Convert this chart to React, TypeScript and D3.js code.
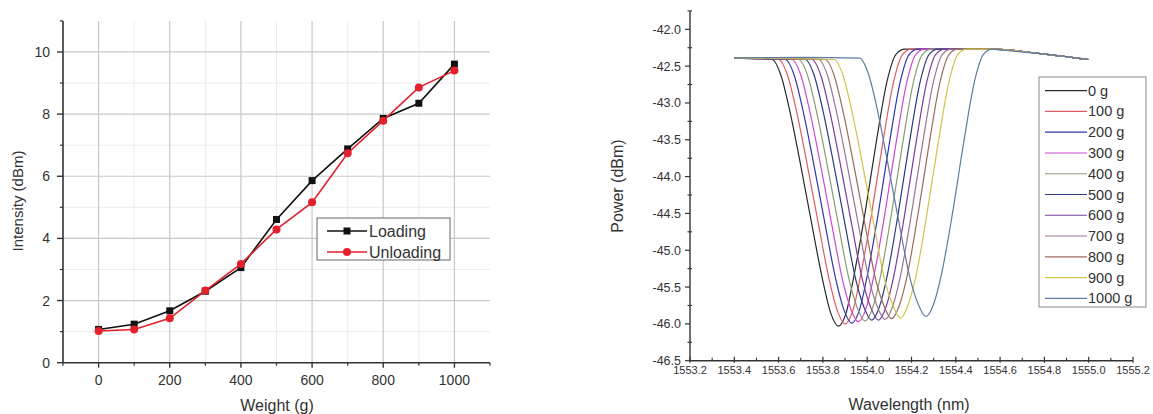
import React from 'react';
import * as d3 from 'd3';

// ---- left chart data ----
const weights = [0, 100, 200, 300, 400, 500, 600, 700, 800, 900, 1000];
const loading = [1.07, 1.24, 1.67, 2.3, 3.06, 4.61, 5.86, 6.88, 7.86, 8.35, 9.61];
const unloading = [1.02, 1.07, 1.43, 2.32, 3.18, 4.29, 5.16, 6.74, 7.79, 8.86, 9.4];
const leftXTicks = [0, 200, 400, 600, 800, 1000];
const leftXMinor = [-100, 100, 300, 500, 700, 900, 1100];
const leftYTicks = [0, 2, 4, 6, 8, 10];
const leftYMinor = [1, 3, 5, 7, 9, 11];

// ---- right chart data ----
const tail = [[1554.57, -42.27], [1554.78, -42.33], [1555.0, -42.41]];
const c0 = [[1553.4, -42.39], [1553.57, -42.41], [1553.61, -42.62], [1553.65, -43.1], [1553.7, -43.85], [1553.75, -44.65], [1553.8, -45.42], [1553.835, -45.85], [1553.87, -46.03], [1553.905, -45.85], [1553.94, -45.35], [1553.99, -44.5], [1554.04, -43.55], [1554.09, -42.7], [1554.13, -42.34], [1554.17, -42.27]];
const c100 = [[1553.4, -42.39], [1553.6, -42.41], [1553.64, -42.62], [1553.68, -43.1], [1553.73, -43.85], [1553.78, -44.65], [1553.83, -45.42], [1553.865, -45.82], [1553.9, -46.0], [1553.935, -45.82], [1553.97, -45.35], [1554.02, -44.5], [1554.07, -43.55], [1554.12, -42.7], [1554.16, -42.34], [1554.2, -42.27]];
const c200 = [[1553.4, -42.39], [1553.63, -42.41], [1553.67, -42.62], [1553.71, -43.1], [1553.76, -43.85], [1553.81, -44.65], [1553.86, -45.42], [1553.895, -45.81], [1553.93, -45.99], [1553.965, -45.81], [1554.0, -45.35], [1554.05, -44.5], [1554.1, -43.55], [1554.15, -42.7], [1554.19, -42.34], [1554.23, -42.27]];
const c300 = [[1553.4, -42.39], [1553.66, -42.41], [1553.7, -42.62], [1553.74, -43.1], [1553.79, -43.85], [1553.84, -44.65], [1553.89, -45.42], [1553.925, -45.79], [1553.96, -45.97], [1553.995, -45.79], [1554.03, -45.35], [1554.08, -44.5], [1554.13, -43.55], [1554.18, -42.7], [1554.22, -42.34], [1554.26, -42.27]];
const c400 = [[1553.4, -42.39], [1553.69, -42.41], [1553.73, -42.62], [1553.77, -43.1], [1553.82, -43.85], [1553.87, -44.65], [1553.92, -45.42], [1553.955, -45.78], [1553.99, -45.96], [1554.025, -45.78], [1554.06, -45.35], [1554.11, -44.5], [1554.16, -43.55], [1554.21, -42.7], [1554.25, -42.34], [1554.29, -42.27]];
const c500 = [[1553.4, -42.39], [1553.72, -42.41], [1553.76, -42.62], [1553.8, -43.1], [1553.85, -43.85], [1553.9, -44.65], [1553.95, -45.42], [1553.985, -45.77], [1554.02, -45.95], [1554.055, -45.77], [1554.09, -45.35], [1554.14, -44.5], [1554.19, -43.55], [1554.24, -42.7], [1554.28, -42.34], [1554.32, -42.27]];
const c600 = [[1553.4, -42.39], [1553.75, -42.41], [1553.79, -42.62], [1553.83, -43.1], [1553.88, -43.85], [1553.93, -44.65], [1553.98, -45.42], [1554.015, -45.77], [1554.05, -45.95], [1554.085, -45.77], [1554.12, -45.35], [1554.17, -44.5], [1554.22, -43.55], [1554.27, -42.7], [1554.31, -42.34], [1554.35, -42.27]];
const c700 = [[1553.4, -42.39], [1553.78, -42.41], [1553.82, -42.62], [1553.86, -43.1], [1553.91, -43.85], [1553.96, -44.65], [1554.01, -45.42], [1554.045, -45.76], [1554.08, -45.94], [1554.115, -45.76], [1554.15, -45.35], [1554.2, -44.5], [1554.25, -43.55], [1554.3, -42.7], [1554.34, -42.34], [1554.38, -42.27]];
const c800 = [[1553.4, -42.39], [1553.81, -42.41], [1553.85, -42.62], [1553.89, -43.1], [1553.94, -43.85], [1553.99, -44.65], [1554.04, -45.42], [1554.075, -45.75], [1554.11, -45.93], [1554.145, -45.75], [1554.18, -45.35], [1554.23, -44.5], [1554.28, -43.55], [1554.33, -42.7], [1554.37, -42.34], [1554.41, -42.27]];
const c900 = [[1553.4, -42.39], [1553.85, -42.41], [1553.89, -42.62], [1553.93, -43.1], [1553.98, -43.85], [1554.03, -44.65], [1554.08, -45.42], [1554.115, -45.74], [1554.15, -45.92], [1554.185, -45.74], [1554.22, -45.35], [1554.27, -44.5], [1554.32, -43.55], [1554.37, -42.7], [1554.41, -42.34], [1554.45, -42.27]];
const c1000 = [[1553.4, -42.39], [1553.7, -42.38], [1553.965, -42.39], [1554.005, -42.6], [1554.045, -43.08], [1554.095, -43.85], [1554.145, -44.65], [1554.195, -45.4], [1554.23, -45.73], [1554.265, -45.9], [1554.3, -45.73], [1554.335, -45.33], [1554.385, -44.5], [1554.435, -43.55], [1554.485, -42.7], [1554.525, -42.34], [1554.565, -42.27], [1554.6, -42.28], [1554.78, -42.33], [1555.0, -42.41]];

const spectra = [c0, c100, c200, c300, c400, c500, c600, c700, c800, c900].map((c) => c.concat(tail)).concat([c1000]);
const spectraNames = ['0 g', '100 g', '200 g', '300 g', '400 g', '500 g', '600 g', '700 g', '800 g', '900 g', '1000 g'];
const spectraColors = ['#2a2a2a', '#e05a62', '#3434b0', '#d048d0', '#8c9a72', '#2c3a7e', '#7a3c9e', '#9c7494', '#9c6c5c', '#cfc54a', '#5c7ca2'];
const rightXTicks = [1553.2, 1553.4, 1553.6, 1553.8, 1554.0, 1554.2, 1554.4, 1554.6, 1554.8, 1555.0, 1555.2];
const rightXMinor = [1553.3, 1553.5, 1553.7, 1553.9, 1554.1, 1554.3, 1554.5, 1554.7, 1554.9, 1555.1];
const rightYTicks = [-46.5, -46.0, -45.5, -45.0, -44.5, -44.0, -43.5, -43.0, -42.5, -42.0];
const rightYMinor = [-46.25, -45.75, -45.25, -44.75, -44.25, -43.75, -43.25, -42.75, -42.25, -41.75];

const FONT = '"Liberation Sans", Arial, sans-serif';
const TXT = '#333';

const xL = d3.scaleLinear().domain([-100, 1100]).range([63, 490]);
const yL = d3.scaleLinear().domain([0, 11]).range([362.7, 20.9]);
const xR = d3.scaleLinear().domain([1553.2, 1555.2]).range([690, 1133]);
const yR = d3.scaleLinear().domain([-46.5, -41.75]).range([360.7, 10.9]);

const lineL = d3.line<number>().x((d, i) => xL(weights[i])).y((d) => yL(d));
const lineR = d3.line<number[]>().x((d) => xR(d[0])).y((d) => yR(d[1])).curve(d3.curveMonotoneX);

const RED = '#e3202c';

const App = () => {
  const [x0, x1] = xL.range();
  const [yb, yt] = yL.range();
  const [rx0, rx1] = xR.range();
  const [ryb, ryt] = yR.range();
  return (
    <svg width={1153} height={414} style={{ position: 'absolute', left: 0, top: 0, background: '#fff' }} fontFamily={FONT}>
      {/* ---------- left chart ---------- */}
      <g>
        {leftYMinor.filter((v) => v < 11).map((v) => (
          <line key={'gym' + v} x1={x0} x2={x1} y1={yL(v)} y2={yL(v)} stroke="#ececec" strokeWidth={1} />
        ))}
        {leftXMinor.filter((v) => v > -100 && v < 1100).map((v) => (
          <line key={'gxm' + v} x1={xL(v)} x2={xL(v)} y1={yt} y2={yb} stroke="#ececec" strokeWidth={1} />
        ))}
        {leftYTicks.filter((v) => v > 0).map((v) => (
          <line key={'gy' + v} x1={x0} x2={x1} y1={yL(v)} y2={yL(v)} stroke="#c8c8c8" strokeWidth={1.2} />
        ))}
        {leftXTicks.map((v) => (
          <line key={'gx' + v} x1={xL(v)} x2={xL(v)} y1={yt} y2={yb} stroke="#c8c8c8" strokeWidth={1.2} />
        ))}
        <line x1={x0} x2={x0} y1={yt} y2={yb} stroke="#333" strokeWidth={1.6} />
        <line x1={x0} x2={x1} y1={yb} y2={yb} stroke="#333" strokeWidth={1.6} />
        {leftYTicks.map((v) => (
          <g key={'ly' + v}>
            <line x1={x0 - 6} x2={x0} y1={yL(v)} y2={yL(v)} stroke="#333" strokeWidth={1.4} />
            <text x={50} y={yL(v) + 5} fontSize={14} textAnchor="end" fill={TXT}>{v}</text>
          </g>
        ))}
        {leftYMinor.map((v) => (
          <line key={'lym' + v} x1={x0 - 3} x2={x0} y1={yL(v)} y2={yL(v)} stroke="#333" strokeWidth={1.2} />
        ))}
        {leftXTicks.map((v) => (
          <g key={'lx' + v}>
            <line x1={xL(v)} x2={xL(v)} y1={yb} y2={yb + 5} stroke="#333" strokeWidth={1.4} />
            <text x={xL(v)} y={385} fontSize={14} textAnchor="middle" fill={TXT}>{v}</text>
          </g>
        ))}
        {leftXMinor.map((v) => (
          <line key={'lxm' + v} x1={xL(v)} x2={xL(v)} y1={yb} y2={yb + 3} stroke="#333" strokeWidth={1.2} />
        ))}
        <text x={277} y={411} fontSize={16} textAnchor="middle" fill={TXT}>Weight (g)</text>
        <text transform="translate(23,201) rotate(-90)" fontSize={15} textAnchor="middle" fill={TXT}>Intensity (dBm)</text>

        <path d={lineL(loading) || ''} fill="none" stroke="#111" strokeWidth={1.6} />
        {loading.map((v, i) => (
          <rect key={'lm' + i} x={xL(weights[i]) - 3.5} y={yL(v) - 3.5} width={7} height={7} fill="#111" />
        ))}
        <path d={lineL(unloading) || ''} fill="none" stroke={RED} strokeWidth={1.6} />
        {unloading.map((v, i) => (
          <circle key={'um' + i} cx={xL(weights[i])} cy={yL(v)} r={4} fill={RED} />
        ))}

        <rect x={317} y={218} width={133} height={42} fill="#fff" stroke="#666" strokeWidth={1} />
        <line x1={327} x2={367} y1={231} y2={231} stroke="#111" strokeWidth={1.6} />
        <rect x={343.5} y={227.5} width={7} height={7} fill="#111" />
        <text x={369} y={236.5} fontSize={16} fill={TXT}>Loading</text>
        <line x1={327} x2={367} y1={252} y2={252} stroke={RED} strokeWidth={1.6} />
        <circle cx={347} cy={252} r={4} fill={RED} />
        <text x={369} y={257.5} fontSize={16} fill={TXT}>Unloading</text>
      </g>

      {/* ---------- right chart ---------- */}
      <g>
        <line x1={rx0} x2={rx0} y1={ryt} y2={ryb} stroke="#333" strokeWidth={1.4} />
        <line x1={rx0} x2={rx1} y1={ryb} y2={ryb} stroke="#333" strokeWidth={1.4} />
        {rightYTicks.map((v) => (
          <g key={'ry' + v}>
            <line x1={rx0 - 5} x2={rx0} y1={yR(v)} y2={yR(v)} stroke="#333" strokeWidth={1.2} />
            <text x={681} y={yR(v) + 4.5} fontSize={12.5} textAnchor="end" fill={TXT}>{v.toFixed(1)}</text>
          </g>
        ))}
        {rightYMinor.map((v) => (
          <line key={'rym' + v} x1={rx0 - 2.5} x2={rx0 + 2} y1={yR(v)} y2={yR(v)} stroke="#333" strokeWidth={1.1} />
        ))}
        {rightXTicks.map((v) => (
          <g key={'rx' + v}>
            <line x1={xR(v)} x2={xR(v)} y1={ryb - 4} y2={ryb + 2} stroke="#333" strokeWidth={1.2} />
            <text x={xR(v)} y={374} fontSize={11} textAnchor="middle" fill={TXT}>{v.toFixed(1)}</text>
          </g>
        ))}
        {rightXMinor.map((v) => (
          <line key={'rxm' + v} x1={xR(v)} x2={xR(v)} y1={ryb - 3} y2={ryb} stroke="#333" strokeWidth={1.1} />
        ))}
        <text x={909} y={410} fontSize={16} textAnchor="middle" fill={TXT}>Wavelength (nm)</text>
        <text transform="translate(623,186) rotate(-90)" fontSize={16} textAnchor="middle" fill={TXT}>Power (dBm)</text>

        {spectra.map((s, i) => (
          <path key={'sp' + i} d={lineR(s) || ''} fill="none" stroke={spectraColors[i]} strokeWidth={1.2} />
        ))}

        <rect x={1039} y={77} width={107} height={230} fill="#fff" stroke="#888" strokeWidth={1} />
        {spectraNames.map((n, i) => {
          const y = 90.7 + i * 20.76;
          return (
            <g key={'lg' + i}>
              <line x1={1045} x2={1087} y1={y} y2={y} stroke={spectraColors[i]} strokeWidth={1.2} />
              <text x={1088} y={y + 5} fontSize={14.5} fill={TXT}>{n}</text>
            </g>
          );
        })}
      </g>
    </svg>
  );
};

export default App;
